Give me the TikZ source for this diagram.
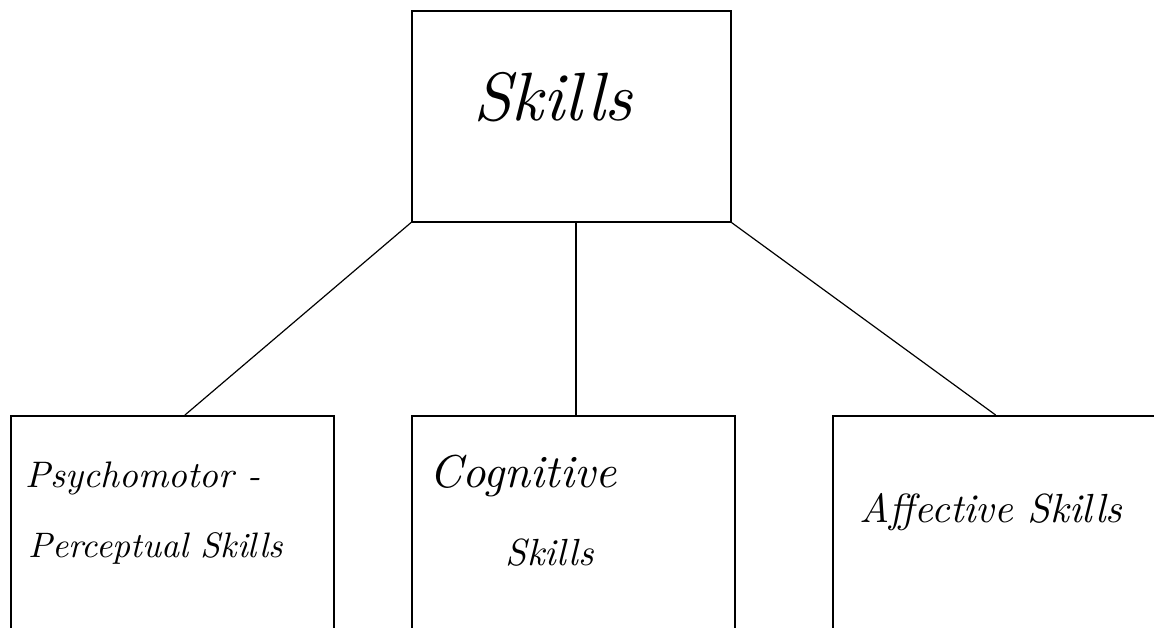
\documentclass[tikz,border=0pt]{standalone}
\usepackage{graphicx}
\usetikzlibrary{calc}
\begin{document}
\begin{tikzpicture}[x=1pt,y=-1pt,
  box/.style={draw=black,line width=1.6pt,rectangle,anchor=north west,inner sep=0pt},
  link/.style={draw=black,line width=1.2pt},
  hand/.style={inner sep=0pt,font=\itshape}]
  \useasboundingbox (0,0) rectangle (1154,627);
  \clip (0,0) rectangle (1154,627);
  % boxes
  \node[box,minimum width=319pt,minimum height=211pt] (skills) at (411,10) {};
  \node[box,minimum width=323pt,minimum height=260pt] (psy) at (10,415) {};
  \node[box,minimum width=323pt,minimum height=260pt] (cog) at (411,415) {};
  \node[box,minimum width=340pt,minimum height=260pt] (aff) at (832,415) {};
  % connectors
  \coordinate (psyTop) at ($(psy.north west)!0.539!(psy.north east)$);
  \coordinate (cogTop) at ($(cog.north west)!0.508!(cog.north east)$);
  \coordinate (affTop) at ($(aff.north west)!0.479!(aff.north east)$);
  \draw[link] (skills.south west) -- (psyTop);
  \draw[link] (skills.south -| cogTop) -- (cogTop);
  \draw[link] (skills.south east) -- (affTop);
  % labels
  \node[hand] (t0) at (553,97) {\resizebox{159pt}{!}{Skills}};
  \node[hand,anchor=west] (t1) at (25,478) {\resizebox{235pt}{!}{Psychomotor -}};
  \node[hand,anchor=west] (t2) at (28,548) {\resizebox{255pt}{!}{Perceptual Skills}};
  \node[hand] (t3) at (523,476) {\resizebox{187pt}{!}{Cognitive}};
  \node[hand] (t4) at (550,553) {\resizebox{88pt}{!}{Skills}};
  \node[hand] (t5) at (991,512) {\resizebox{263pt}{!}{Affective Skills}};
\end{tikzpicture}
\end{document}
